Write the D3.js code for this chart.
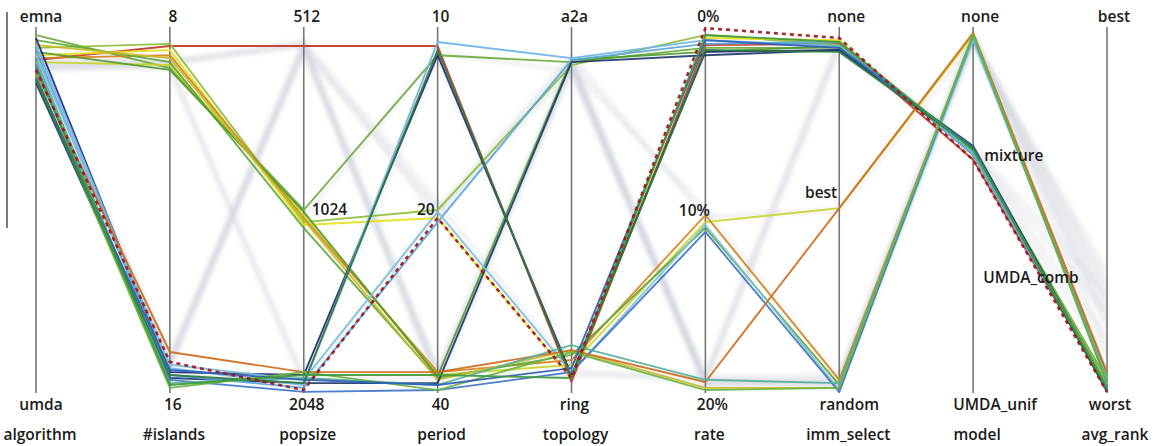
<!DOCTYPE html>
<html>
<head>
<meta charset="utf-8">
<script src="https://cdn.jsdelivr.net/npm/d3@7"></script>
<style>
  html, body { margin: 0; padding: 0; background: #fff; }
  svg { display: block; }
  text { font-family: "Open Sans", "DejaVu Sans", sans-serif; font-weight: 600; fill: #1b1b1b; }
</style>
</head>
<body>
<svg id="chart" width="1153" height="446"></svg>
<script>
// ---------------- DATA ----------------
const dimensions = ["algorithm", "#islands", "popsize", "period", "topology", "rate", "imm_select", "model", "avg_rank"];

// category tick labels per axis: [label, normalized position]
const algorithmTicks = [["emna", 1], ["umda", 0]];
const islandsTicks   = [["8", 1], ["16", 0]];
const popsizeTicks   = [["512", 1], ["1024", 0.5], ["2048", 0]];
const periodTicks    = [["10", 1], ["20", 0.5], ["40", 0]];
const topologyTicks  = [["a2a", 1], ["ring", 0]];
const rateTicks      = [["0%", 1], ["10%", 0.5], ["20%", 0]];
const immTicks       = [["none", 1], ["best", 0.5], ["random", 0]];
const modelTicks     = [["none", 1], ["mixture", 2/3], ["UMDA_comb", 1/3], ["UMDA_unif", 0]];
const rankTicks      = [["best", 1], ["worst", 0]];

// highlighted configurations (normalized value on each axis, 1 = top category)
const lineColors = ["#c2372a", "#a3151b", "#6aab3a", "#8cbf3a", "#e6df1e", "#c8d62a", "#d4861e", "#5ea83a", "#4f9a2e", "#c9b82a",
                    "#22287a", "#1d3a6e", "#6cb4e4", "#5aa5dd", "#7cc0d8", "#3f74c8", "#cf6b1c", "#55b09a", "#6db33f", "#2f5fb5", "#2f7a3a", "#3f9a3a"];
const lineDashed = [false, true, false, false, false, false, false, false, false, false,
                    false, false, false, false, false, false, false, false, false, false, false, false];
const lineValues = [
  [0.910, 0.948, 0.948, 0.948, 0.030, 0.951, 0.954, 0.637, 0.014],
  [0.883, 0.085, 0.008, 0.478, 0.041, 0.997, 0.970, 0.637, 0.003],
  [0.978, 0.888, 0.500, 0.923, 0.904, 0.943, 0.943, 0.664, 0.036],
  [0.943, 0.954, 0.467, 0.500, 0.896, 0.978, 0.951, 0.658, 0.030],
  [0.923, 0.937, 0.459, 0.478, 0.041, 0.970, 0.964, 0.650, 0.025],
  [0.904, 0.896, 0.486, 0.049, 0.077, 0.467, 0.505, 0.978, 0.041],
  [0.915, 0.923, 0.478, 0.057, 0.090, 0.486, 0.036, 0.975, 0.049],
  [0.964, 0.904, 0.451, 0.041, 0.104, 0.451, 0.022, 0.970, 0.046],
  [0.932, 0.883, 0.495, 0.046, 0.910, 0.932, 0.948, 0.664, 0.022],
  [0.951, 0.915, 0.473, 0.036, 0.117, 0.014, 0.014, 0.975, 0.036],
  [0.970, 0.057, 0.049, 0.923, 0.049, 0.932, 0.937, 0.669, 0.008],
  [0.847, 0.041, 0.027, 0.027, 0.904, 0.923, 0.937, 0.675, 0.014],
  [0.951, 0.068, 0.022, 0.959, 0.915, 0.964, 0.948, 0.658, 0.019],
  [0.937, 0.049, 0.014, 0.467, 0.910, 0.954, 0.959, 0.650, 0.011],
  [0.923, 0.077, 0.036, 0.495, 0.057, 0.459, 0.008, 0.964, 0.041],
  [0.896, 0.036, 0.003, 0.008, 0.057, 0.440, 0.003, 0.978, 0.030],
  [0.877, 0.112, 0.057, 0.057, 0.117, 0.030, 0.505, 0.984, 0.057],
  [0.910, 0.027, 0.041, 0.022, 0.131, 0.036, 0.027, 0.975, 0.036],
  [0.869, 0.014, 0.057, 0.008, 0.112, 0.008, 0.014, 0.981, 0.027],
  [0.861, 0.063, 0.036, 0.022, 0.068, 0.964, 0.943, 0.672, 0.003],
  [0.855, 0.049, 0.027, 0.937, 0.041, 0.937, 0.932, 0.669, 0.005],
  [0.888, 0.022, 0.049, 0.049, 0.041, 0.978, 0.959, 0.664, 0.016]
];

// remaining (de-emphasised) configurations
const backgroundValues = [
  [0.92, 0.08, 0.95, 0.05, 0.90, 0.03, 0.03, 0.97, 0.25],
  [0.90, 0.10, 0.94, 0.50, 0.88, 0.02, 0.04, 0.96, 0.20],
  [0.91, 0.90, 0.96, 0.06, 0.05, 0.05, 0.96, 0.66, 0.15],
  [0.89, 0.91, 0.95, 0.48, 0.91, 0.04, 0.02, 0.97, 0.30],
  [0.90, 0.89, 0.03, 0.92, 0.06, 0.95, 0.95, 0.66, 0.22],
  [0.93, 0.07, 0.94, 0.04, 0.89, 0.50, 0.03, 0.98, 0.18],
  [0.91, 0.09, 0.96, 0.52, 0.06, 0.03, 0.94, 0.67, 0.27],
  [0.88, 0.90, 0.95, 0.03, 0.90, 0.02, 0.03, 0.97, 0.12],
  [0.92, 0.06, 0.02, 0.50, 0.92, 0.48, 0.50, 0.96, 0.33],
  [0.90, 0.92, 0.48, 0.93, 0.88, 0.04, 0.96, 0.65, 0.10],
  [0.91, 0.08, 0.93, 0.06, 0.89, 0.04, 0.05, 0.97, 0.28],
  [0.89, 0.89, 0.04, 0.04, 0.91, 0.03, 0.02, 0.96, 0.23]
];

const axisTicks = [algorithmTicks, islandsTicks, popsizeTicks, periodTicks, topologyTicks, rateTicks, immTicks, modelTicks, rankTicks];

// ---------------- LAYOUT ----------------
const svg = d3.select("#chart");
const x = d3.scalePoint().domain(dimensions).range([36, 1107]);
const y = d3.scaleLinear().domain([0, 1]).range([393, 27]);

// label fine placement (offsets relative to the axis / tick)
const midLabelPlacement = {
  "1024":      {anchor: "start",  dx: 8,   dy: 5},
  "20":        {anchor: "end",    dx: -3,  dy: 5},
  "10%":       {anchor: "middle", dx: -11, dy: 6},
  "best":      {anchor: "end",    dx: -2,  dy: -12},
  "mixture":   {anchor: "start",  dx: 11,  dy: 12},
  "UMDA_comb": {anchor: "start",  dx: 10,  dy: 12}
};
const endLabelShift = {"random": 10, "UMDA_unif": 22, "20%": 7, "none": 7, "best": 7, "emna": 5, "umda": 5};

// stray frame line on the left
svg.append("line").attr("x1", 7).attr("x2", 7).attr("y1", 12).attr("y2", 228)
  .attr("stroke", "#333").attr("stroke-width", 1.3);

const defs = svg.append("defs");
defs.append("filter").attr("id", "blur").attr("x", "-5%").attr("y", "-5%").attr("width", "110%").attr("height", "110%")
  .append("feGaussianBlur").attr("stdDeviation", 2.2);

const lineGen = d3.line()
  .x((d, i) => x(dimensions[i]))
  .y(d => y(d));

// background lines
svg.append("g").attr("filter", "url(#blur)")
  .selectAll("path").data(backgroundValues).join("path")
  .attr("d", d => lineGen(d))
  .attr("fill", "none")
  .attr("stroke", "#c9ced6")
  .attr("stroke-width", 5)
  .attr("stroke-opacity", 0.28);

// axes
const axisG = svg.append("g");
dimensions.forEach((dim, i) => {
  axisG.append("line")
    .attr("x1", x(dim)).attr("x2", x(dim))
    .attr("y1", y(1)).attr("y2", y(0))
    .attr("stroke", "#777").attr("stroke-width", 1.6);
});

// highlighted lines
const idx = d3.range(lineValues.length);
svg.append("g").selectAll("path").data(idx).join("path")
  .attr("d", i => lineGen(lineValues[i]))
  .attr("fill", "none")
  .attr("stroke", i => lineColors[i])
  .attr("stroke-width", i => lineDashed[i] ? 2.6 : 1.9)
  .attr("stroke-dasharray", i => lineDashed[i] ? "4,4" : null)
  .attr("stroke-opacity", 0.92)
  .attr("stroke-linejoin", "round");

// bring dashed line to top
svg.selectAll("path").filter(function () { return d3.select(this).attr("stroke-dasharray"); }).raise();

// tick labels
const labelG = svg.append("g").style("font-size", "15.5px");
dimensions.forEach((dim, i) => {
  const ax = x(dim);
  axisTicks[i].forEach(([lab, v]) => {
    if (v === 1 || v === 0) {
      labelG.append("text")
        .attr("x", ax + (endLabelShift[lab] !== undefined ? endLabelShift[lab] : 3))
        .attr("y", v === 1 ? 22 : 410)
        .attr("text-anchor", "middle")
        .text(lab);
    } else {
      const p = midLabelPlacement[lab];
      labelG.append("text")
        .attr("x", ax + p.dx)
        .attr("y", y(v) + p.dy)
        .attr("text-anchor", p.anchor)
        .text(lab);
    }
  });
  // axis title
  labelG.append("text")
    .attr("x", ax + (dim === "imm_select" ? 9 : dim === "avg_rank" ? 8 : 4))
    .attr("y", 440)
    .attr("text-anchor", "middle")
    .text(dim);
});
</script>
</body>
</html>
